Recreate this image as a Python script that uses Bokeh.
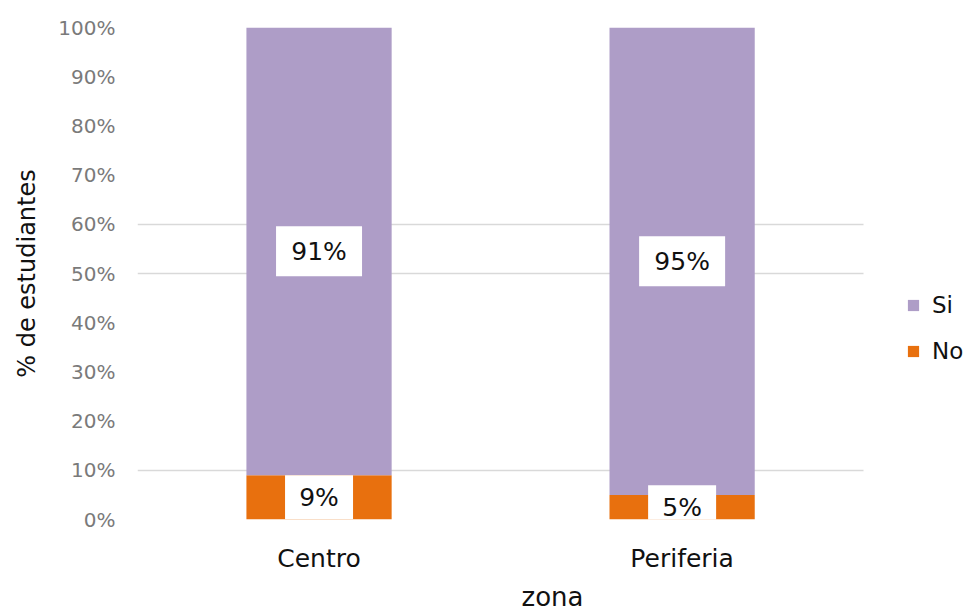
from bokeh.plotting import figure
from bokeh.models import (ColumnDataSource, Range1d, FixedTicker,
                          PrintfTickFormatter, Legend, LegendItem)
from bokeh.core.properties import value
from bokeh.embed import file_html
from bokeh.resources import INLINE

zonas = ["Centro", "Periferia"]
si = [91, 95]
no = [9, 5]
y_ticks = [0, 10, 20, 30, 40, 50, 60, 70, 80, 90, 100]
grid_ticks = [0, 10, 50, 60]

FONT = "DejaVu Sans"
C_SI = "#AE9DC7"
C_NO = "#E8700E"

xs = list(range(len(zonas)))
src = ColumnDataSource(dict(
    x=xs, Si=si, No=no,
    si_mid=[n + s / 2 for n, s in zip(no, si)],
    no_mid=[n / 2 for n in no],
    si_lab=[f"{s}%" for s in si],
    no_lab=[f"{n}%" for n in no],
))

W, H = 967, 616
p = figure(width=W, height=H, x_range=Range1d(-0.5, len(zonas) - 0.214),
           y_range=Range1d(0, 100), output_backend="svg", toolbar_location=None,
           min_border_left=137, min_border_right=0, min_border_top=27,
           min_border_bottom=H - 519)
p.outline_line_color = None
p.background_fill_color = "white"

rs = p.vbar_stack(["No", "Si"], x="x", width=0.4, source=src,
                  color=[C_NO, C_SI], line_color=None)

# label boxes
p.rect(x="x", y="si_mid", width=86, height=50, width_units="screen",
       height_units="screen", source=src, fill_color="white", line_color=None)
p.rect(x="x", y="no_mid", width=68, height=44, width_units="screen",
       height_units="screen", source=src, fill_color="white", line_color=None)
p.text(x="x", y="si_mid", text="si_lab", source=src, text_align="center",
       text_baseline="middle", text_font=value(FONT), text_font_size="25px",
       text_color="#111111")
p.text(x="x", y="no_mid", text="no_lab", source=src, text_align="center",
       text_baseline="middle", text_font=value(FONT), text_font_size="25px",
       text_color="#111111")

# axes
p.yaxis.ticker = FixedTicker(ticks=y_ticks)
p.yaxis.formatter = PrintfTickFormatter(format="%d%%")
p.yaxis.axis_line_color = None
p.yaxis.major_tick_line_color = None
p.yaxis.minor_tick_line_color = None
p.yaxis.major_label_text_font = FONT
p.yaxis.major_label_text_font_size = "20px"
p.yaxis.major_label_text_color = "#7a7a7a"
p.yaxis.major_label_standoff = 16
p.yaxis.axis_label = "% de estudiantes"
p.yaxis.axis_label_text_font = FONT
p.yaxis.axis_label_text_font_style = "normal"
p.yaxis.axis_label_text_font_size = "24px"
p.yaxis.axis_label_text_color = "#111111"
p.yaxis.axis_label_standoff = 14

p.xaxis.ticker = FixedTicker(ticks=xs)
p.xaxis.major_label_overrides = {i: z for i, z in zip(xs, zonas)}
p.xaxis.axis_line_color = None
p.xaxis.major_tick_line_color = None
p.xaxis.minor_tick_line_color = None
p.xaxis.major_label_text_font = FONT
p.xaxis.major_label_text_font_size = "25px"
p.xaxis.major_label_text_color = "#111111"
p.xaxis.major_label_standoff = 18
p.xaxis.axis_label = "zona"
p.xaxis.axis_label_text_font = FONT
p.xaxis.axis_label_text_font_style = "normal"
p.xaxis.axis_label_text_font_size = "26px"
p.xaxis.axis_label_text_color = "#111111"
p.xaxis.axis_label_standoff = 6

p.xgrid.grid_line_color = None
p.ygrid.ticker = FixedTicker(ticks=grid_ticks)
p.ygrid.cross_bounds = (-0.5, len(zonas) - 0.5)
p.ygrid.grid_line_color = "#d9d9d9"
p.ygrid.grid_line_width = 1.5
p.ygrid.level = "underlay"

legend = Legend(items=[LegendItem(label="Si", renderers=[rs[1]]),
                       LegendItem(label="No", renderers=[rs[0]])],
                location=(769, 155), border_line_color=None,
                background_fill_alpha=0, padding=0, margin=0, spacing=20,
                glyph_width=14, glyph_height=14, label_standoff=12,
                label_text_font=FONT, label_text_font_size="23px",
                label_text_color="#111111")
p.add_layout(legend)

open("out.html", "w").write(file_html(p, INLINE))
